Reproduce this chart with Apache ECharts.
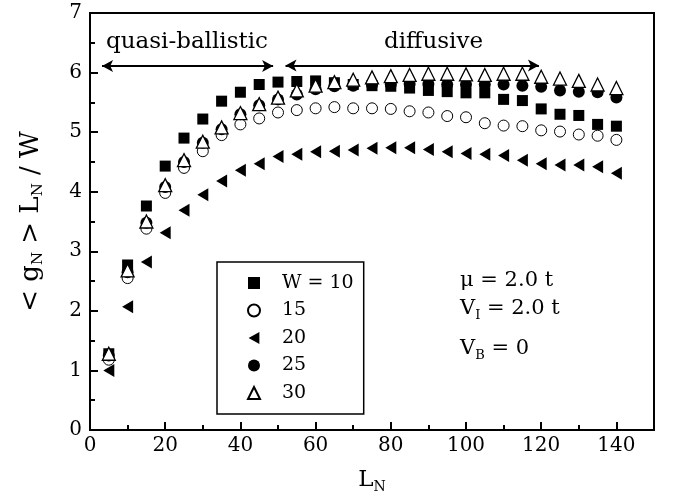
<!DOCTYPE html>
<html>
<head>
<meta charset="utf-8">
<script src="https://cdn.jsdelivr.net/npm/echarts@6/dist/echarts.min.js"></script>
<style>html,body{margin:0;padding:0;background:#fff;}#c{width:677px;height:499px;}</style>
</head>
<body>
<div id="c"></div>
<script>
// ---- data ----
var L = [5,10,15,20,25,30,35,40,45,50,55,60,65,70,75,80,85,90,95,100,105,110,115,120,125,130,135,140];
var W10 = [1.28,2.77,3.76,4.43,4.90,5.22,5.52,5.67,5.80,5.84,5.85,5.86,5.83,5.80,5.78,5.77,5.74,5.70,5.68,5.66,5.66,5.55,5.53,5.39,5.30,5.28,5.13,5.10];
var W15 = [1.18,2.55,3.38,3.98,4.40,4.68,4.95,5.13,5.23,5.33,5.37,5.40,5.42,5.40,5.40,5.39,5.35,5.33,5.27,5.25,5.15,5.11,5.10,5.03,5.01,4.96,4.94,4.87];
var W20 = [1.00,2.07,2.82,3.31,3.69,3.95,4.18,4.36,4.47,4.59,4.63,4.67,4.68,4.70,4.73,4.74,4.74,4.71,4.67,4.64,4.63,4.61,4.53,4.47,4.45,4.45,4.42,4.31];
var W25 = [1.25,2.65,3.48,4.08,4.50,4.82,5.05,5.30,5.45,5.55,5.63,5.72,5.77,5.78,5.79,5.80,5.81,5.81,5.80,5.80,5.80,5.80,5.78,5.76,5.70,5.68,5.67,5.58];
var W30 = [1.28,2.68,3.50,4.11,4.53,4.84,5.08,5.32,5.47,5.58,5.70,5.78,5.84,5.88,5.92,5.94,5.96,5.98,5.98,5.97,5.96,5.98,5.98,5.93,5.90,5.86,5.80,5.74];
var seriesNames = ['W = 10','15','20','25','30'];
var xTicks = [0,20,40,60,80,100,120,140];
var yTicks = [0,1,2,3,4,5,6,7];
var quasiArrow = [[3.2,6.11],[48.7,6.11]];
var diffArrow = [[52,6.12],[119.4,6.12]];

function pairs(xs, ys){ return xs.map(function(x,i){ return [x, ys[i]]; }); }

var FONT = 'DejaVu Serif';
function f(px){ return px + 'px ' + FONT; }
var chart = echarts.init(document.getElementById('c'), null, {renderer:'canvas'});
var leftTri = 'path://M0,5 L9,0 L9,10 Z';

var option = {
  backgroundColor: '#fff',
  animation: false,
  textStyle: {fontFamily: FONT, color:'#000'},
  grid: {left: 90, right: 23, top: 13, bottom: 69, show: true, borderColor:'#000', borderWidth: 2, backgroundColor:'transparent'},
  xAxis: {
    type: 'value', min: 0, max: 150, interval: 20,
    name: 'L{sub|N}', nameLocation: 'middle', nameGap: 36,
    nameTextStyle: {fontFamily: FONT, fontSize: 23, color:'#000',
      rich: {sub: {fontFamily: FONT, fontSize: 14, color:'#000', verticalAlign:'top', padding:[14,0,0,0]}}},
    axisLine: {lineStyle: {color:'#000', width: 2}},
    axisTick: {inside: true, length: 8, lineStyle:{color:'#000', width: 2}},
    minorTick: {show: true, splitNumber: 2, length: 5, lineStyle:{color:'#000', width: 2}},
    axisLabel: {fontFamily: FONT, fontSize: 20, color:'#000', margin: 6, showMaxLabel: false,
      formatter: function(v){ return xTicks.indexOf(v) >= 0 ? String(v) : ''; }},
    splitLine: {show: false}
  },
  yAxis: {
    type: 'value', min: 0, max: 7, interval: 1,
    name: '< g{sub|N} > L{sub|N} / W', nameLocation: 'middle', nameGap: 44,
    nameTextStyle: {fontFamily: FONT, fontSize: 26, color:'#000',
      rich: {sub: {fontFamily: FONT, fontSize: 15, color:'#000', verticalAlign:'top', padding:[15,0,0,0]}}},
    axisLine: {lineStyle: {color:'#000', width: 2}},
    axisTick: {inside: true, length: 8, lineStyle:{color:'#000', width: 2}},
    minorTick: {show: true, splitNumber: 2, length: 5, lineStyle:{color:'#000', width: 2}},
    axisLabel: {fontFamily: FONT, fontSize: 20, color:'#000', margin: 8,
      formatter: function(v){ return yTicks.indexOf(v) >= 0 ? String(v) : ''; }},
    splitLine: {show: false}
  },
  legend: {
    orient: 'vertical', left: 217, top: 262,
    data: seriesNames,
    itemWidth: 12, itemHeight: 12, itemGap: 5.5,
    padding: [10, 10, 10, 30],
    borderColor: '#000', borderWidth: 1.5, borderRadius: 0,
    backgroundColor: '#fff',
    textStyle: {fontFamily: FONT, fontSize: 19, color:'#000', lineHeight: 22, padding:[0,0,0,17]}
  },
  series: [
    {name: seriesNames[0], type:'scatter', symbol:'rect', symbolSize: 11, data: pairs(L, W10),
      itemStyle:{color:'#000', opacity:1}},
    {name: seriesNames[1], type:'scatter', symbol:'circle', symbolSize: 11, data: pairs(L, W15),
      itemStyle:{color:'#fff', borderColor:'#000', borderWidth:1, opacity:1}},
    {name: seriesNames[2], type:'scatter', symbol: leftTri, symbolSize: [11,13], data: pairs(L, W20),
      itemStyle:{color:'#000', opacity:1}},
    {name: seriesNames[3], type:'scatter', symbol:'circle', symbolSize: 12, data: pairs(L, W25),
      itemStyle:{color:'#000', opacity:1}},
    {name: seriesNames[4], type:'scatter', symbol:'triangle', symbolSize: 13, data: pairs(L, W30),
      itemStyle:{color:'#fff', borderColor:'#000', borderWidth:1.3, opacity:1}},
    {name: 'annot', type:'scatter', data: [], silent: true,
      markLine: {silent: true, symbol:['arrow','arrow'], symbolSize:[9,11], label:{show:false},
        lineStyle:{color:'#000', width:2, type:'solid'},
        data: [
          [{coord: quasiArrow[0]}, {coord: quasiArrow[1]}],
          [{coord: diffArrow[0]}, {coord: diffArrow[1]}]
        ]}}
  ],
  graphic: [
    {type:'text', left: 106, top: 31, style:{text:'quasi-ballistic', font:f(23), fill:'#000'}},
    {type:'text', left: 384, top: 31, style:{text:'diffusive', font:f(23), fill:'#000'}},
    {type:'text', left: 460, top: 270, style:{text:'μ = 2.0 t', font:f(21), fill:'#000'}},
    {type:'text', left: 460, top: 298, style:{text:'V{sub|I} = 2.0 t', font:f(21), fill:'#000',
      rich:{sub:{font:f(13), fill:'#000', verticalAlign:'top', padding:[15,0,0,0]}}}},
    {type:'text', left: 460, top: 338, style:{text:'V{sub|B} = 0', font:f(21), fill:'#000',
      rich:{sub:{font:f(13), fill:'#000', verticalAlign:'top', padding:[15,0,0,0]}}}}
  ]
};
chart.setOption(option);
</script>
</body>
</html>
